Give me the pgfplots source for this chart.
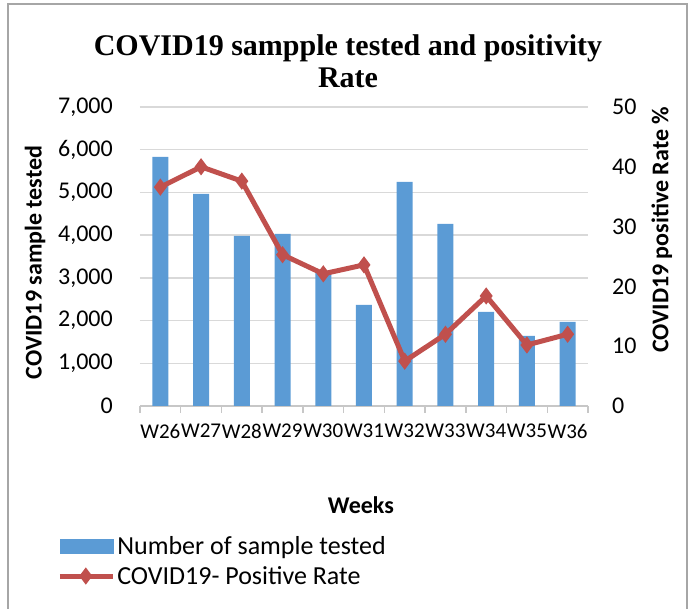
\documentclass[border=0pt]{standalone}
\usepackage{fontspec}
\setmainfont{Carlito}
\newfontfamily\titlefont{Liberation Serif}
\usepackage{pgfplots}
\pgfplotsset{compat=1.18}
\definecolor{barcol}{HTML}{5B9BD5}
\definecolor{linecol}{HTML}{C0504D}
\definecolor{gridcol}{HTML}{D9D9D9}
\pgfplotsset{linelegend/.style={legend image code/.code={\draw[##1, mark repeat=2, mark phase=2] plot coordinates {(0pt,0pt) (26pt,0pt) (53pt,0pt)};}}}
\begin{document}
\begin{tikzpicture}
\useasboundingbox (-140pt,-203pt) rectangle (549pt,406pt);
\draw[gray!70, line width=1.5pt] (-132pt,-215pt) rectangle (547pt,402pt);
\node[font=\titlefont\bfseries\fontsize{30}{32}\selectfont, align=center] at (208pt,345pt) {COVID19 sampple tested and positivity\\Rate};
\begin{axis}[
  at={(0pt,0pt)}, anchor=south west,
  scale only axis, width=448pt, height=299pt,
  xmin=-0.5, xmax=10.5, ymin=0, ymax=7000,
  axis x line*=bottom, axis y line*=left,
  y axis line style={draw=none},
  x axis line style={draw=gridcol!80!gray, line width=1.5pt},
  ytick={0,1000,...,7000},
  ymajorgrids, grid style={draw=gridcol, line width=1.5pt},
  xtick={0,...,10},
  xticklabels={W26,W27,W28,W29,W30,W31,W32,W33,W34,W35,W36},
  minor xtick={-0.5,0.5,...,10.5},
  major tick length=0pt, minor tick length=7pt, tick align=outside,
  minor tick style={draw=gridcol!80!gray, line width=1.5pt},
  xticklabel style={font=\fontsize{21}{24}\selectfont, inner sep=0pt, anchor=north, yshift=-18pt},
  yticklabel style={font=\fontsize{24}{28}\selectfont, inner sep=0pt, anchor=east, xshift=-27pt},
  /pgf/number format/.cd, 1000 sep={,}, assume math mode=true,
  /pgfplots/.cd,
  xlabel={Weeks},
  xlabel style={font=\bfseries\fontsize{24}{28}\selectfont, at={(axis description cs:0.493,-0.331)}, anchor=center},
  ylabel={COVID19 sample tested},
  ylabel style={font=\bfseries\fontsize{24}{28}\selectfont, at={(axis description cs:-0.234,0.48)}, anchor=center, rotate=0},
]
\addplot[ybar, bar width=16pt, fill=barcol, draw=none] coordinates {
(0,5830) (1,4965) (2,3981) (3,4028) (4,3135) (5,2365) (6,5246) (7,4262) (8,2201) (9,1639) (10,1967)};
\end{axis}
\begin{axis}[
  at={(0pt,0pt)}, anchor=south west,
  scale only axis, width=448pt, height=299pt,
  xmin=-0.5, xmax=10.5, ymin=0, ymax=50,
  axis x line=none, axis y line*=right,
  y axis line style={draw=none},
  ytick={0,10,...,50},
  major tick length=0pt,
  yticklabel style={font=\fontsize{24}{28}\selectfont, inner sep=0pt, anchor=west, xshift=24pt},
  /pgf/number format/assume math mode=true,
  ylabel={COVID19 positive Rate \%},
  ylabel style={font=\bfseries\fontsize{24}{28}\selectfont, at={(axis description cs:1.165,0.589)}, anchor=center},
  legend style={at={(axis description cs:-0.185,-0.43)}, anchor=north west, draw=none, fill=none,
    font=\fontsize{26}{30}\selectfont, row sep=6pt, inner sep=0pt},
  legend cell align=left,
]
\addlegendimage{legend image code/.code={\fill[barcol] (0pt,-7pt) rectangle (53pt,7pt);}}
\addlegendentry{Number of sample tested}
\addplot[color=linecol, line width=5pt, mark=diamond*, mark size=4.5pt, mark options={solid}, linelegend]
coordinates {
(0,36.6) (1,40.0) (2,37.6) (3,25.3) (4,22.1) (5,23.6) (6,7.5) (7,12.0) (8,18.4) (9,10.2) (10,12.0)};
\addlegendentry{COVID19- Positive Rate}
\end{axis}
\end{tikzpicture}
\end{document}
